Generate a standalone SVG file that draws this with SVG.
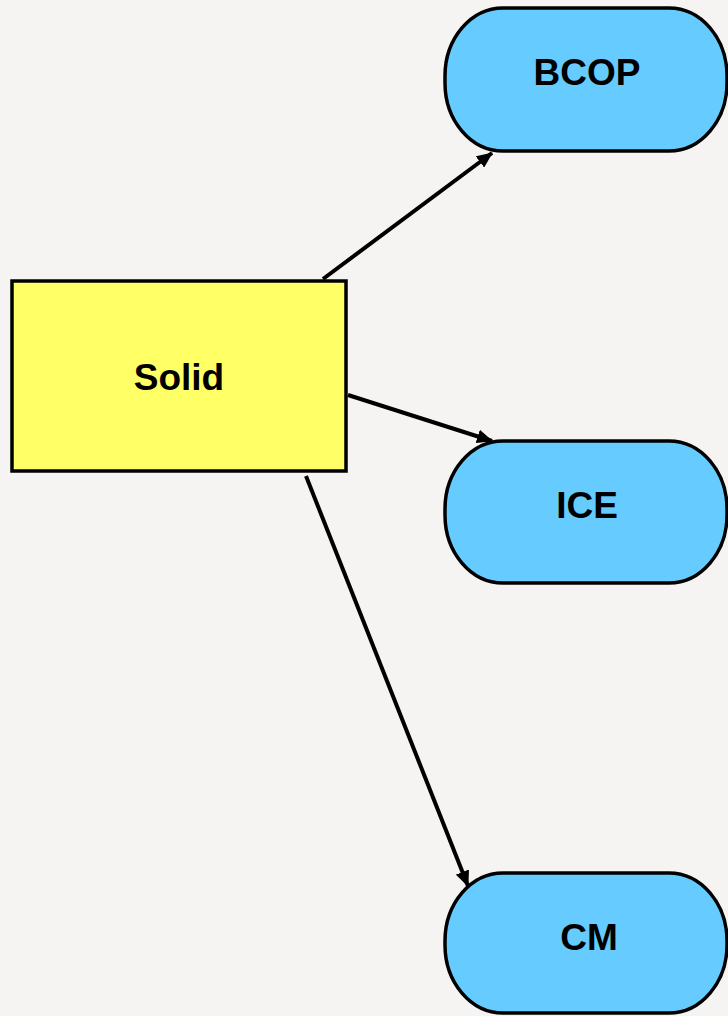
<svg xmlns="http://www.w3.org/2000/svg" width="728" height="1016" viewBox="0 0 728 1016">
<defs>
<marker id="ah" markerWidth="16" markerHeight="14" refX="15" refY="7" orient="auto" markerUnits="userSpaceOnUse" viewBox="0 0 16 14">
<path d="M0,0 L16,7 L0,14 z" fill="#000"/>
</marker>
<style>
.term{fill:#66ccff;stroke:#000;stroke-width:3.5}
.box{fill:#ffff66;stroke:#000;stroke-width:3.5}
.lbl{font-family:"Liberation Sans",Arial,sans-serif;font-weight:bold;font-size:37px;fill:#000;text-anchor:middle}
.conn{stroke:#000;stroke-width:4;fill:none;marker-end:url(#ah)}
</style>
</defs>
<rect width="728" height="1016" fill="#f5f4f2"/>
<g id="connectors">
<line class="conn" x1="323" y1="279" x2="492" y2="153"/>
<line class="conn" x1="348" y1="395" x2="492" y2="441"/>
<line class="conn" x1="306" y1="476" x2="468" y2="886"/>
</g>
<g id="solid">
<rect class="box" x="12" y="281" width="334" height="190"/>
<text class="lbl" x="179" y="390">Solid</text>
</g>
<g id="bcop">
<rect class="term" x="445" y="8" width="282" height="143" rx="58" ry="68"/>
<text class="lbl" x="587" y="85">BCOP</text>
</g>
<g id="ice">
<rect class="term" x="445" y="441" width="282" height="142" rx="58" ry="68"/>
<text class="lbl" x="587" y="518">ICE</text>
</g>
<g id="cm">
<rect class="term" x="445" y="873" width="282" height="140" rx="58" ry="68"/>
<text class="lbl" x="589" y="950">CM</text>
</g>
</svg>
